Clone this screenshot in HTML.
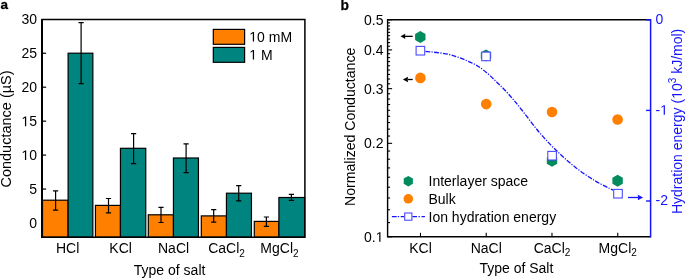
<!DOCTYPE html>
<html><head><meta charset="utf-8"><style>
html,body{margin:0;padding:0;background:#fff;}
body{width:685px;height:278px;overflow:hidden;}
svg{display:block;will-change:transform;font-family:"Liberation Sans",sans-serif;font-size:14px;}
</style></head><body>
<svg width="685" height="278" viewBox="0 0 685 278">
<line x1="42.1" y1="223.00" x2="46.1" y2="223.00" stroke="#000" stroke-width="1.2"/>
<line x1="42.1" y1="189.05" x2="46.1" y2="189.05" stroke="#000" stroke-width="1.2"/>
<line x1="42.1" y1="155.10" x2="46.1" y2="155.10" stroke="#000" stroke-width="1.2"/>
<line x1="42.1" y1="121.15" x2="46.1" y2="121.15" stroke="#000" stroke-width="1.2"/>
<line x1="42.1" y1="87.20" x2="46.1" y2="87.20" stroke="#000" stroke-width="1.2"/>
<line x1="42.1" y1="53.25" x2="46.1" y2="53.25" stroke="#000" stroke-width="1.2"/>
<rect x="42.50" y="200.2" width="25.60" height="37.00" fill="#ff8000" stroke="#000" stroke-width="1.2"/>
<rect x="68.10" y="53.2" width="24.75" height="184.00" fill="#008480" stroke="#000" stroke-width="1.2"/>
<rect x="95.45" y="205.4" width="25.00" height="31.80" fill="#ff8000" stroke="#000" stroke-width="1.2"/>
<rect x="120.45" y="148.3" width="25.30" height="88.90" fill="#008480" stroke="#000" stroke-width="1.2"/>
<rect x="148.30" y="214.8" width="25.15" height="22.40" fill="#ff8000" stroke="#000" stroke-width="1.2"/>
<rect x="173.45" y="158.0" width="25.00" height="79.20" fill="#008480" stroke="#000" stroke-width="1.2"/>
<rect x="201.30" y="215.9" width="25.15" height="21.30" fill="#ff8000" stroke="#000" stroke-width="1.2"/>
<rect x="226.45" y="193.2" width="25.00" height="44.00" fill="#008480" stroke="#000" stroke-width="1.2"/>
<rect x="254.30" y="221.4" width="24.60" height="15.80" fill="#ff8000" stroke="#000" stroke-width="1.2"/>
<rect x="278.90" y="197.5" width="25.70" height="39.70" fill="#008480" stroke="#000" stroke-width="1.2"/>
<path d="M53.00 190.8H58.20M55.6 190.8V210.2M53.00 210.2H58.20" stroke="#000" stroke-width="1.2" fill="none"/>
<path d="M78.50 22.6H83.70M81.1 22.6V83.7M78.50 83.7H83.70" stroke="#000" stroke-width="1.2" fill="none"/>
<path d="M105.90 198.5H111.10M108.5 198.5V212.8M105.90 212.8H111.10" stroke="#000" stroke-width="1.2" fill="none"/>
<path d="M131.00 133.6H136.20M133.6 133.6V163.6M131.00 163.6H136.20" stroke="#000" stroke-width="1.2" fill="none"/>
<path d="M158.40 207.3H163.60M161.0 207.3V222.5M158.40 222.5H163.60" stroke="#000" stroke-width="1.2" fill="none"/>
<path d="M183.50 143.9H188.70M186.1 143.9V172.7M183.50 172.7H188.70" stroke="#000" stroke-width="1.2" fill="none"/>
<path d="M211.10 209.6H216.30M213.7 209.6V222.2M211.10 222.2H216.30" stroke="#000" stroke-width="1.2" fill="none"/>
<path d="M236.10 185.7H241.30M238.7 185.7V200.9M236.10 200.9H241.30" stroke="#000" stroke-width="1.2" fill="none"/>
<path d="M263.80 217.0H269.00M266.4 217.0V226.4M263.80 226.4H269.00" stroke="#000" stroke-width="1.2" fill="none"/>
<path d="M288.80 194.4H294.00M291.4 194.4V200.3M288.80 200.3H294.00" stroke="#000" stroke-width="1.2" fill="none"/>
<path d="M42.1 237.2V19.6H304.9V237.2Z" fill="none" stroke="#000" stroke-width="1.5"/>
<line x1="42.0" y1="237.89999999999998" x2="42.0" y2="18.900000000000002" stroke="#000" stroke-width="2"/>
<text x="29.21" y="228.00">0</text>
<text x="29.21" y="194.05">5</text>
<text x="21.43" y="160.10"> 0</text><path transform="translate(21.43,160.10) scale(0.00684,-0.00684)" d="M515 0L515 1237L197 1010L197 1180L530 1409L696 1409L696 0Z" fill="#000"/>
<text x="21.43" y="126.15"> 5</text><path transform="translate(21.43,126.15) scale(0.00684,-0.00684)" d="M515 0L515 1237L197 1010L197 1180L530 1409L696 1409L696 0Z" fill="#000"/>
<text x="21.43" y="92.20">20</text>
<text x="21.43" y="58.25">25</text>
<text x="21.43" y="24.30">30</text>
<rect x="213.3" y="29.4" width="31.3" height="14.9" fill="#ff8000" stroke="#000" stroke-width="1.2"/>
<rect x="213.3" y="47.4" width="31.3" height="14.9" fill="#008480" stroke="#000" stroke-width="1.2"/>
<text x="249.30" y="41.60"> 0 mM</text><path transform="translate(249.30,41.60) scale(0.00684,-0.00684)" d="M515 0L515 1237L197 1010L197 1180L530 1409L696 1409L696 0Z" fill="#000"/>
<text x="249.30" y="59.60">  M</text><path transform="translate(249.30,59.60) scale(0.00684,-0.00684)" d="M515 0L515 1237L197 1010L197 1180L530 1409L696 1409L696 0Z" fill="#000"/>
<text x="67.65" y="253.2" text-anchor="middle">HCl</text>
<text x="120.60" y="253.2" text-anchor="middle">KCl</text>
<text x="173.55" y="253.2" text-anchor="middle">NaCl</text>
<text x="226.50" y="253.2" text-anchor="middle">CaCl<tspan font-size="10" dy="3.8">2</tspan></text>
<text x="279.45" y="253.2" text-anchor="middle">MgCl<tspan font-size="10" dy="3.8">2</tspan></text>
<text x="169.6" y="274.7" text-anchor="middle">Type of salt</text>
<text transform="translate(10.8,129) rotate(-90)" text-anchor="middle" font-size="14.5">Conductance (µS)</text>
<text x="0.5" y="8.6" font-weight="bold" font-size="13.5" stroke="#000" stroke-width="0.3">a</text>
<line x1="387.6" y1="236.80" x2="392.1" y2="236.80" stroke="#000" stroke-width="1.1"/>
<line x1="387.6" y1="222.59" x2="390.1" y2="222.59" stroke="#000" stroke-width="1.1"/>
<line x1="387.6" y1="209.74" x2="390.1" y2="209.74" stroke="#000" stroke-width="1.1"/>
<line x1="387.6" y1="198.01" x2="390.1" y2="198.01" stroke="#000" stroke-width="1.1"/>
<line x1="387.6" y1="187.22" x2="390.1" y2="187.22" stroke="#000" stroke-width="1.1"/>
<line x1="387.6" y1="177.23" x2="390.1" y2="177.23" stroke="#000" stroke-width="1.1"/>
<line x1="387.6" y1="167.93" x2="390.1" y2="167.93" stroke="#000" stroke-width="1.1"/>
<line x1="387.6" y1="159.22" x2="390.1" y2="159.22" stroke="#000" stroke-width="1.1"/>
<line x1="387.6" y1="151.05" x2="390.1" y2="151.05" stroke="#000" stroke-width="1.1"/>
<line x1="387.6" y1="143.34" x2="392.1" y2="143.34" stroke="#000" stroke-width="1.1"/>
<line x1="387.6" y1="136.05" x2="390.1" y2="136.05" stroke="#000" stroke-width="1.1"/>
<line x1="387.6" y1="129.14" x2="390.1" y2="129.14" stroke="#000" stroke-width="1.1"/>
<line x1="387.6" y1="122.56" x2="390.1" y2="122.56" stroke="#000" stroke-width="1.1"/>
<line x1="387.6" y1="116.29" x2="390.1" y2="116.29" stroke="#000" stroke-width="1.1"/>
<line x1="387.6" y1="110.29" x2="390.1" y2="110.29" stroke="#000" stroke-width="1.1"/>
<line x1="387.6" y1="104.56" x2="390.1" y2="104.56" stroke="#000" stroke-width="1.1"/>
<line x1="387.6" y1="99.05" x2="390.1" y2="99.05" stroke="#000" stroke-width="1.1"/>
<line x1="387.6" y1="93.76" x2="390.1" y2="93.76" stroke="#000" stroke-width="1.1"/>
<line x1="387.6" y1="88.67" x2="392.1" y2="88.67" stroke="#000" stroke-width="1.1"/>
<line x1="387.6" y1="83.77" x2="390.1" y2="83.77" stroke="#000" stroke-width="1.1"/>
<line x1="387.6" y1="79.04" x2="390.1" y2="79.04" stroke="#000" stroke-width="1.1"/>
<line x1="387.6" y1="74.47" x2="390.1" y2="74.47" stroke="#000" stroke-width="1.1"/>
<line x1="387.6" y1="70.05" x2="390.1" y2="70.05" stroke="#000" stroke-width="1.1"/>
<line x1="387.6" y1="65.77" x2="390.1" y2="65.77" stroke="#000" stroke-width="1.1"/>
<line x1="387.6" y1="61.62" x2="390.1" y2="61.62" stroke="#000" stroke-width="1.1"/>
<line x1="387.6" y1="57.59" x2="390.1" y2="57.59" stroke="#000" stroke-width="1.1"/>
<line x1="387.6" y1="53.68" x2="390.1" y2="53.68" stroke="#000" stroke-width="1.1"/>
<line x1="387.6" y1="49.89" x2="392.1" y2="49.89" stroke="#000" stroke-width="1.1"/>
<line x1="387.6" y1="46.19" x2="390.1" y2="46.19" stroke="#000" stroke-width="1.1"/>
<line x1="387.6" y1="42.60" x2="390.1" y2="42.60" stroke="#000" stroke-width="1.1"/>
<line x1="387.6" y1="39.09" x2="390.1" y2="39.09" stroke="#000" stroke-width="1.1"/>
<line x1="387.6" y1="35.68" x2="390.1" y2="35.68" stroke="#000" stroke-width="1.1"/>
<line x1="387.6" y1="32.35" x2="390.1" y2="32.35" stroke="#000" stroke-width="1.1"/>
<line x1="387.6" y1="29.10" x2="390.1" y2="29.10" stroke="#000" stroke-width="1.1"/>
<line x1="387.6" y1="25.93" x2="390.1" y2="25.93" stroke="#000" stroke-width="1.1"/>
<line x1="387.6" y1="22.83" x2="390.1" y2="22.83" stroke="#000" stroke-width="1.1"/>
<line x1="387.6" y1="19.80" x2="392.1" y2="19.80" stroke="#000" stroke-width="1.1"/>
<line x1="420.48" y1="236.8" x2="420.48" y2="232.8" stroke="#000" stroke-width="1.1"/>
<line x1="486.23" y1="236.8" x2="486.23" y2="232.8" stroke="#000" stroke-width="1.1"/>
<line x1="551.98" y1="236.8" x2="551.98" y2="232.8" stroke="#000" stroke-width="1.1"/>
<line x1="617.73" y1="236.8" x2="617.73" y2="232.8" stroke="#000" stroke-width="1.1"/>
<path d="M650.6 236.8H387.6V19.8H650.6" fill="none" stroke="#000" stroke-width="1.4"/>
<line x1="650.6" y1="19.1" x2="650.6" y2="237.5" stroke="#1414ff" stroke-width="1.5"/>
<line x1="646.1" y1="19.80" x2="650.6" y2="19.80" stroke="#1414ff" stroke-width="1.4"/>
<line x1="646.1" y1="110.40" x2="650.6" y2="110.40" stroke="#1414ff" stroke-width="1.4"/>
<line x1="646.1" y1="201.00" x2="650.6" y2="201.00" stroke="#1414ff" stroke-width="1.4"/>
<path d="M425.5 51.3C429.58 51.87 442.40 52.82 450 54.7C457.60 56.58 465.60 60.10 471.1 62.6C476.60 65.10 478.87 66.60 483 69.7C487.13 72.80 491.58 77.07 495.9 81.2C500.22 85.33 504.58 89.70 508.9 94.5C513.22 99.30 516.72 103.67 521.8 110C526.88 116.33 533.50 125.62 539.4 132.5C545.30 139.38 551.27 145.55 557.2 151.3C563.13 157.05 568.80 162.15 575 167C581.20 171.85 588.07 176.53 594.4 180.4C600.73 184.27 609.90 188.57 613 190.2" fill="none" stroke="#1414ff" stroke-width="1.3" stroke-dasharray="4.8 1.4 1.2 1.4"/>
<polygon points="420.30,31.10 425.50,34.10 425.50,40.10 420.30,43.10 415.10,40.10 415.10,34.10" fill="#028b5d"/>
<polygon points="486.00,49.50 491.20,52.50 491.20,58.50 486.00,61.50 480.80,58.50 480.80,52.50" fill="#028b5d"/>
<polygon points="552.00,154.70 557.20,157.70 557.20,163.70 552.00,166.70 546.80,163.70 546.80,157.70" fill="#028b5d"/>
<polygon points="617.60,174.70 622.80,177.70 622.80,183.70 617.60,186.70 612.40,183.70 612.40,177.70" fill="#028b5d"/>
<rect x="416.10" y="46.40" width="8.6" height="8.6" fill="#fff" stroke="#4a4aff" stroke-width="1.1"/>
<rect x="481.70" y="52.10" width="8.6" height="8.6" fill="#fff" stroke="#4a4aff" stroke-width="1.1"/>
<rect x="547.80" y="151.40" width="8.6" height="8.6" fill="#fff" stroke="#4a4aff" stroke-width="1.1"/>
<rect x="613.70" y="189.40" width="8.6" height="8.6" fill="#fff" stroke="#4a4aff" stroke-width="1.1"/>
<circle cx="420.4" cy="77.9" r="5.3" fill="#ff8000"/>
<circle cx="486.2" cy="104.1" r="5.3" fill="#ff8000"/>
<circle cx="552" cy="112" r="5.3" fill="#ff8000"/>
<circle cx="617.6" cy="119.5" r="5.3" fill="#ff8000"/>
<line x1="405.00" y1="36.35" x2="412.7" y2="36.35" stroke="#000" stroke-width="1.3"/><path d="M400.5 36.35L405.30 33.65L405.00 36.35L405.30 39.05Z" fill="#000"/>
<line x1="407.70" y1="79.5" x2="412.7" y2="79.5" stroke="#000" stroke-width="1.3"/><path d="M402.9 79.5L408.00 76.80L407.70 79.5L408.00 82.20Z" fill="#000"/>
<line x1="638.10" y1="197.5" x2="628.0" y2="197.5" stroke="#1414ff" stroke-width="1.3"/><path d="M643.1 197.5L637.80 194.80L638.10 197.5L637.80 200.20Z" fill="#1414ff"/>
<polygon points="408.30,175.90 412.89,178.55 412.89,183.85 408.30,186.50 403.71,183.85 403.71,178.55" fill="#028b5d"/>
<circle cx="408.3" cy="198.8" r="4.8" fill="#ff8000"/>
<line x1="391.9" y1="216.6" x2="404.5" y2="216.6" stroke="#1414ff" stroke-width="1.3" stroke-dasharray="4.8 1.1 1.3 1.6"/>
<line x1="412.4" y1="216.6" x2="424.9" y2="216.6" stroke="#1414ff" stroke-width="1.3" stroke-dasharray="4.6 1.5 1.3 1.7"/>
<rect x="404.70" y="213.00" width="7.2" height="7.2" fill="#fff" stroke="#4a4aff" stroke-width="1.1"/>
<text x="428.5" y="186">Interlayer space</text>
<text x="428.5" y="203.8">Bulk</text>
<text x="428.5" y="221.7">Ion hydration energy</text>
<text x="364.04" y="241.80">0. </text><path transform="translate(375.71,241.80) scale(0.00684,-0.00684)" d="M515 0L515 1237L197 1010L197 1180L530 1409L696 1409L696 0Z" fill="#000"/>
<text x="364.04" y="148.34">0.2</text>
<text x="364.04" y="93.67">0.3</text>
<text x="364.04" y="54.89">0.4</text>
<text x="364.04" y="24.80">0.5</text>
<text x="655.50" y="24.20" fill="#1414ff">0</text>
<text x="655.50" y="114.80" fill="#1414ff">- </text><path transform="translate(660.16,114.80) scale(0.00684,-0.00684)" d="M515 0L515 1237L197 1010L197 1180L530 1409L696 1409L696 0Z" fill="#1414ff"/>
<text x="655.50" y="205.40" fill="#1414ff">-2</text>
<text x="420.48" y="252.6" text-anchor="middle">KCl</text>
<text x="486.23" y="252.6" text-anchor="middle">NaCl</text>
<text x="551.98" y="252.6" text-anchor="middle">CaCl<tspan font-size="10" dy="3.8">2</tspan></text>
<text x="617.73" y="252.6" text-anchor="middle">MgCl<tspan font-size="10" dy="3.8">2</tspan></text>
<text x="516.4" y="272.6" text-anchor="middle">Type of Salt</text>
<text transform="translate(355,126.8) rotate(-90)" text-anchor="middle" font-size="14.1">Normalized Conductance</text>
<g transform="translate(681.8,121.4) rotate(-90)"><text x="-92.65" y="0" fill="#1414ff">Hydration energy ( 0<tspan font-size="10" dy="-5.5">3</tspan><tspan dy="5.5"> kJ/mol)</tspan></text><path transform="translate(22.52,0) scale(0.00684,-0.00684)" d="M515 0L515 1237L197 1010L197 1180L530 1409L696 1409L696 0Z" fill="#1414ff"/></g>
<text x="340.4" y="10" font-weight="bold" font-size="13.8" stroke="#000" stroke-width="0.25">b</text>
</svg>
</body></html>
